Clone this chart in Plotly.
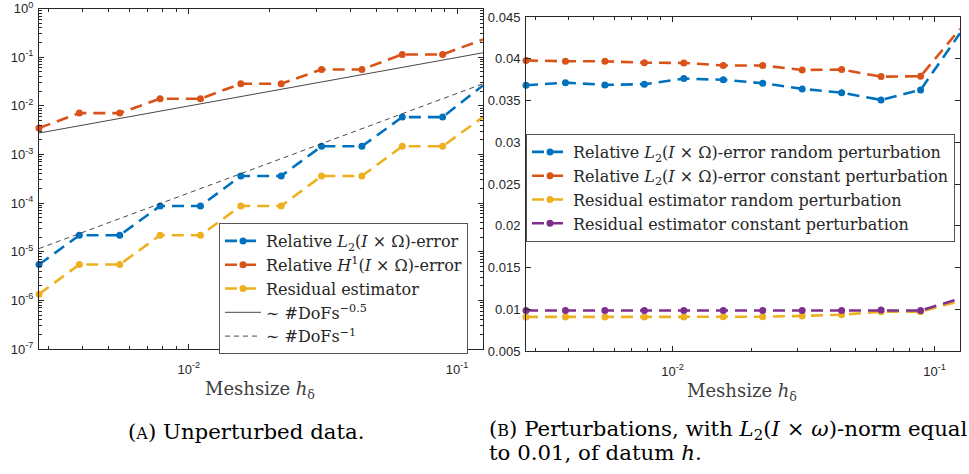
import plotly.graph_objects as go
import math

# ---------------- data ----------------
h = [0.002762, 0.003906, 0.005524, 0.0078125, 0.011049, 0.015625,
     0.022097, 0.03125, 0.044194, 0.0625, 0.088388, 0.125]

# (A) unperturbed data
err_L2 = [5.46e-6, 2.18e-5, 2.18e-5, 8.72e-5, 8.72e-5, 3.6e-4,
          3.6e-4, 1.47e-3, 1.47e-3, 5.86e-3, 5.86e-3, 0.0262]
err_H1 = [0.00348, 0.00708, 0.00708, 0.0140, 0.0140, 0.0284,
          0.0284, 0.0559, 0.0559, 0.1136, 0.1136, 0.231]
res_est = [1.34e-6, 5.46e-6, 5.46e-6, 2.18e-5, 2.18e-5, 8.72e-5,
           8.72e-5, 3.6e-4, 3.6e-4, 1.47e-3, 1.47e-3, 5.86e-3]
ref_h = [0.002762, 0.125]
ref_half = [2.75e-3, 0.123]     # ~ DoFs^-0.5
ref_one = [1.16e-5, 0.0284]     # ~ DoFs^-1

# (B) perturbations
L2_rand = [0.03683, 0.03714, 0.03687, 0.03695, 0.03762, 0.03748,
           0.03707, 0.03639, 0.03594, 0.03507, 0.03627, 0.04305]
L2_const = [0.0398, 0.0397, 0.0397, 0.03953, 0.0395, 0.0392,
            0.0392, 0.03866, 0.0387, 0.03786, 0.0379, 0.04356]
res_rand = [0.00908, 0.00908, 0.00908, 0.00908, 0.00908, 0.0091,
            0.0091, 0.0092, 0.00935, 0.0097, 0.0097, 0.0110]
res_const = [0.00985, 0.00985, 0.00985, 0.00985, 0.00985, 0.00985,
             0.00985, 0.00985, 0.00985, 0.0099, 0.00985, 0.01127]

left_ytick_exp = [-7, -6, -5, -4, -3, -2, -1, 0]
x_tick_exp = [-2, -1]
right_yticks = [0.005, 0.01, 0.015, 0.02, 0.025, 0.03, 0.035, 0.04, 0.045]

# ---------------- style ----------------
BLUE = "#0072BD"
ORANGE = "#D95319"
YELLOW = "#EDB120"
PURPLE = "#7E2F8E"
AX = "#262626"
FW, FH = 969, 474
SERIF = "DejaVu Serif"
SANS = "Liberation Sans"
DASH = "12px,7px"


def sx(px):
    return px / FW


def sy(py):
    return 1 - py / FH


fig = go.Figure()


def series(x, y, color, name, xa, ya, legend):
    fig.add_trace(go.Scatter(
        x=x, y=y, mode="lines+markers", name=name,
        line=dict(color=color, width=2.6, dash=DASH),
        marker=dict(color=color, size=7),
        xaxis=xa, yaxis=ya, legend=legend, cliponaxis=False))


series(h, err_L2, BLUE, "Relative <i>L</i><sub>2</sub>(<i>I</i> × Ω)-error", "x", "y", "legend")
series(h, err_H1, ORANGE, "Relative <i>H</i><sup>1</sup>(<i>I</i> × Ω)-error", "x", "y", "legend")
series(h, res_est, YELLOW, "Residual estimator", "x", "y", "legend")
fig.add_trace(go.Scatter(x=ref_h, y=ref_half, mode="lines", name="∼ #DoFs<sup>−0.5</sup>",
                         line=dict(color="#333333", width=0.9), xaxis="x", yaxis="y",
                         legend="legend"))
fig.add_trace(go.Scatter(x=ref_h, y=ref_one, mode="lines", name="∼ #DoFs<sup>−1</sup>",
                         line=dict(color="#333333", width=0.9, dash="5px,4px"),
                         xaxis="x", yaxis="y", legend="legend"))

series(h, L2_rand, BLUE, "Relative <i>L</i><sub>2</sub>(<i>I</i> × Ω)-error random perturbation", "x2", "y2", "legend2")
series(h, L2_const, ORANGE, "Relative <i>L</i><sub>2</sub>(<i>I</i> × Ω)-error constant perturbation", "x2", "y2", "legend2")
series(h, res_rand, YELLOW, "Residual estimator random perturbation", "x2", "y2", "legend2")
series(h, res_const, PURPLE, "Residual estimator constant perturbation", "x2", "y2", "legend2")

# minor tick positions
minor_x = [m * 10 ** e for e in (-3, -2, -1) for m in range(2, 10)]
minor_y = [m * 10 ** e for e in range(-7, 0) for m in range(2, 10)]

xr = [math.log10(h[0]), math.log10(h[-1])]

axis_common = dict(
    automargin=False, ticks="inside", ticklen=5, tickcolor=AX, tickwidth=1,
    showline=True, linecolor=AX, linewidth=1, mirror="ticks",
    showgrid=False, zeroline=False, ticklabeloverflow="allow",
    tickfont=dict(family=SANS, size=13, color=AX))


def xaxis(domain, anchor):
    return dict(
        type="log", domain=domain, anchor=anchor, range=xr,
        tickmode="array", tickvals=[10 ** e for e in x_tick_exp],
        ticktext=[f"10<sup>{e}</sup>" for e in x_tick_exp],
        minor=dict(tickmode="array", tickvals=minor_x, ticks="inside",
                   ticklen=3, tickcolor=AX, tickwidth=1),
        ticklabelstandoff=8, **axis_common)


legend_common = dict(
    xanchor="left", yanchor="top",
    bgcolor="white", bordercolor="#555555", borderwidth=1,
    font=dict(family=SERIF, size=16, color=AX),
    itemwidth=36, tracegroupgap=0, traceorder="normal", itemclick=False)

fig.update_layout(
    width=FW, height=FH, margin=dict(l=0, r=0, t=0, b=0, autoexpand=False),
    paper_bgcolor="white", plot_bgcolor="white",
    xaxis=xaxis([sx(39), sx(483)], "y"),
    xaxis2=xaxis([sx(526), sx(960)], "y2"),
    yaxis=dict(
        type="log", domain=[sy(349), sy(8.5)], anchor="x", range=[-7, 0],
        tickmode="array", tickvals=[10 ** e for e in left_ytick_exp],
        ticktext=[f"10<sup>{e}</sup>" for e in left_ytick_exp],
        minor=dict(tickmode="array", tickvals=minor_y, ticks="inside",
                   ticklen=3, tickcolor=AX),
        ticklabelstandoff=2, **axis_common),
    yaxis2=dict(
        domain=[sy(351), sy(17)], anchor="x2", range=[0.005, 0.045],
        tickmode="array", tickvals=right_yticks,
        ticktext=[f"{v:g}" for v in right_yticks],
        ticklabelstandoff=2, **axis_common),
    legend=dict(x=sx(219), y=sy(223), **legend_common),
    legend2=dict(x=sx(526), y=sy(134), **legend_common),
    showlegend=True,
)

ann = []
for cx, cy in ((260, 390), (742, 392)):
    ann.append(dict(x=sx(cx), y=sy(cy), xref="paper", yref="paper",
                    xanchor="center", yanchor="middle",
                    text="Meshsize <i>h</i><sub>δ</sub>", showarrow=False,
                    font=dict(family=SERIF, size=18, color="#404040")))
ann.append(dict(x=sx(246), y=sy(431), xref="paper", yref="paper",
                xanchor="center", yanchor="middle",
                text="(<span style='font-size:16px'>A</span>) Unperturbed data.",
                showarrow=False, font=dict(family=SERIF, size=21.3, color="black")))
ann.append(dict(x=sx(487), y=sy(430), xref="paper", yref="paper",
                xanchor="left", yanchor="middle",
                text="(<span style='font-size:16px'>B</span>) Perturbations, with "
                     "<i>L</i><sub>2</sub>(<i>I</i> × <i>ω</i>)-norm equal",
                showarrow=False, font=dict(family=SERIF, size=21.3, color="black")))
ann.append(dict(x=sx(487), y=sy(452), xref="paper", yref="paper",
                xanchor="left", yanchor="middle",
                text="to 0.01, of datum <i>h</i>.",
                showarrow=False, font=dict(family=SERIF, size=21.3, color="black")))
fig.update_layout(annotations=ann)

fig.write_html("out.html",
               config={"displayModeBar": False},
               post_script="document.body.style.margin='0';"
                           "document.body.style.overflow='hidden';")
